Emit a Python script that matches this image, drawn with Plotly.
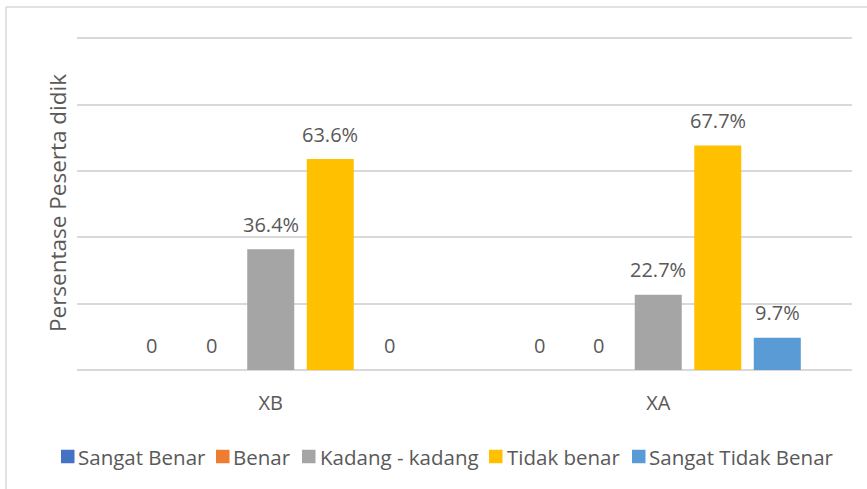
import plotly.graph_objects as go

categories = ["XB", "XA"]
series_names = ["Sangat Benar", "Benar", "Kadang - kadang", "Tidak benar", "Sangat Tidak Benar"]
sangat_benar = [0, 0]
benar = [0, 0]
kadang = [36.4, 22.7]
tidak_benar = [63.6, 67.7]
sangat_tidak_benar = [0, 9.7]
colors = ["#4472C4", "#ED7D31", "#A5A5A5", "#FFC000", "#5B9BD5"]

all_values = [sangat_benar, benar, kadang, tidak_benar, sangat_tidak_benar]

FONT = "Open Sans"
TXT = "#595959"
GRID = "#D9D9D9"

W, H = 867, 489
L, R, T, B = 77, 15, 35, 119
PW, PH = W - L - R, H - T - B
BARGAP, GROUPGAP = 0.232, 0.21


def px(x):
    return (x - L) / PW


def py(y):
    return (H - B - y) / PH


def fmt(v):
    return "0" if v == 0 else f"{v}%"


fig = go.Figure()
annotations = []
n = len(series_names)
slot = (1 - BARGAP) / n
for i, (name, vals, col) in enumerate(zip(series_names, all_values, colors)):
    fig.add_trace(go.Bar(
        x=categories, y=vals, name=name,
        marker=dict(color=col, line=dict(width=0)),
        showlegend=False,
    ))
    # data labels placed above each bar through the axes
    for j, v in enumerate(vals):
        annotations.append(dict(
            text=fmt(v), xref="x", yref="y", x=j + (i - (n - 1) / 2) * slot, y=v,
            xanchor="center", yanchor="middle", yshift=25, showarrow=False,
            font=dict(family=FONT, size=20, color=TXT)))

# custom legend (Excel style: small square right before the label)
legend_square_left = [61, 216, 302, 489, 632]
legend_text_left = [79, 234, 321, 508, 650]
legend_y = 456.5
sq = 13.5
shapes = []
for name, col, sx, tx in zip(series_names, colors, legend_square_left, legend_text_left):
    shapes.append(dict(type="rect", xref="paper", yref="paper",
                       x0=px(sx), x1=px(sx + sq), y0=py(legend_y - sq / 2), y1=py(legend_y + sq / 2),
                       fillcolor=col, line=dict(width=0)))
    annotations.append(dict(text=name, xref="paper", yref="paper", x=px(tx - 3), y=py(legend_y),
                            xanchor="left", yanchor="middle", showarrow=False,
                            font=dict(family=FONT, size=20.5, color=TXT)))

annotations.append(dict(text="Persentase Peserta didik", textangle=-90,
                        xref="paper", yref="paper", x=px(57), y=py(203),
                        xanchor="center", yanchor="middle", showarrow=False,
                        font=dict(family=FONT, size=22.5, color=TXT)))

shapes += [
    dict(type="line", xref="paper", yref="paper", x0=px(6), x1=px(900), y0=py(7), y1=py(7),
         line=dict(color=GRID, width=1.5)),
    dict(type="line", xref="paper", yref="paper", x0=px(6), x1=px(6), y0=py(7), y1=py(520),
         line=dict(color=GRID, width=1.5)),
]

fig.update_layout(
    width=W, height=H,
    margin=dict(l=L, r=R, t=T, b=B, autoexpand=False),
    paper_bgcolor="white", plot_bgcolor="white",
    barmode="group", bargap=BARGAP, bargroupgap=GROUPGAP,
    font=dict(family=FONT, color=TXT),
    showlegend=False,
    xaxis=dict(showgrid=False, showline=False, zeroline=False,
               tickfont=dict(family=FONT, size=20, color=TXT),
               ticks="", ticklabelstandoff=19),
    yaxis=dict(range=[0, 101], dtick=20, showgrid=True, gridcolor=GRID, gridwidth=1.5,
               zeroline=True, zerolinecolor=GRID, zerolinewidth=1.5,
               showticklabels=False, showline=False),
    annotations=annotations,
    shapes=shapes,
)

fig.write_html("out.html", config={"displayModeBar": False},
               post_script="document.body.style.margin='0px';")
